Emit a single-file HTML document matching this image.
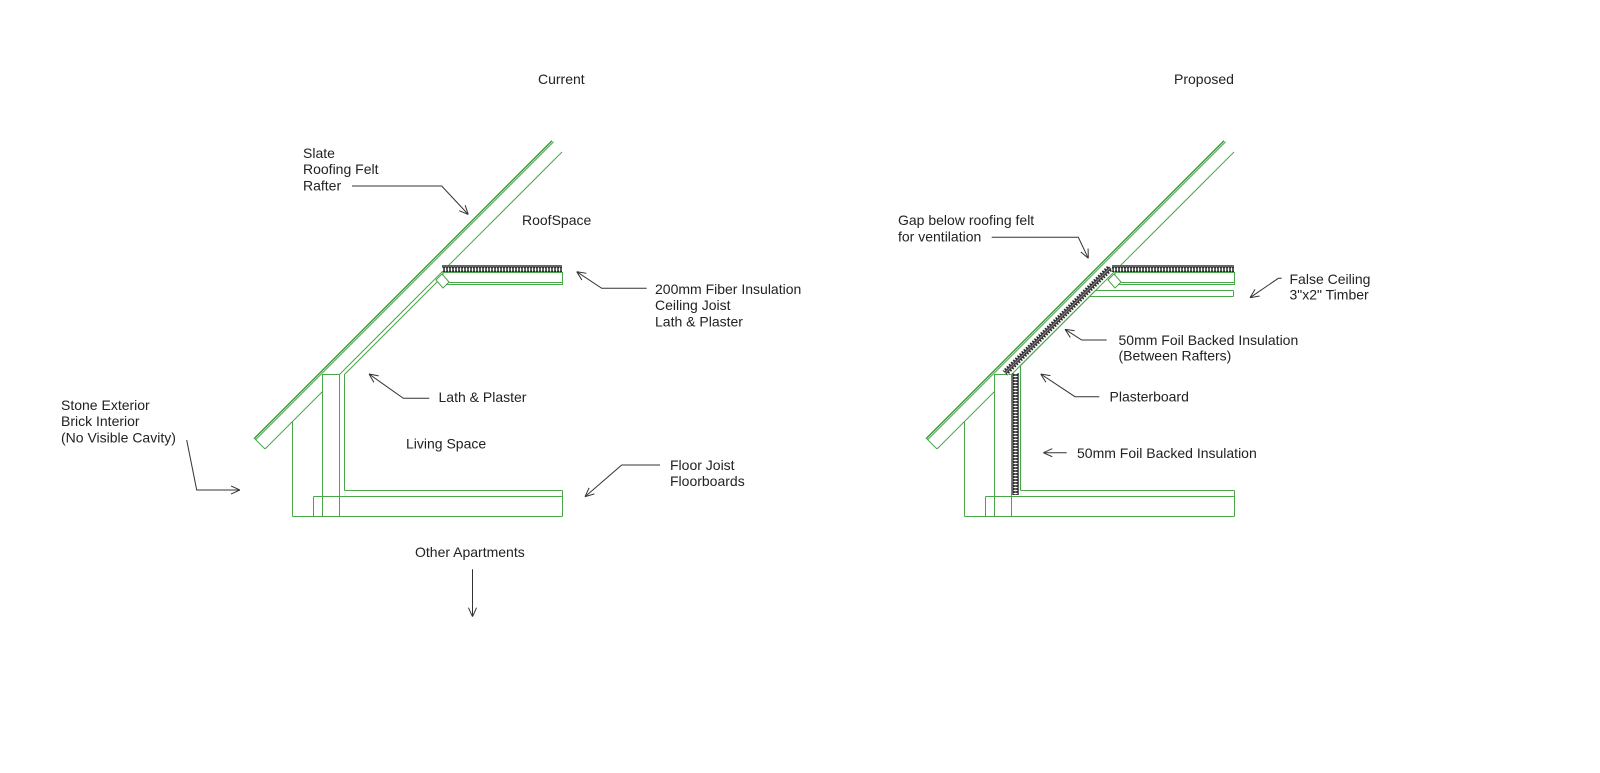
<!DOCTYPE html>
<html>
<head>
<meta charset="utf-8">
<style>
html,body{margin:0;padding:0;background:#fff;}
svg{display:block;}
text{font-family:"Liberation Sans",Arial,sans-serif;font-size:14px;fill:#222;}
</style>
</head>
<body>
<svg width="1600" height="773" viewBox="0 0 1600 773" xmlns="http://www.w3.org/2000/svg">
<defs>
  <marker id="ah" viewBox="0 0 10 10" refX="10" refY="5" markerWidth="9" markerHeight="9" markerUnits="userSpaceOnUse" orient="auto">
    <path d="M0,0.5 L10,5 L0,9.5" fill="none" stroke="#333" stroke-width="1.1"/>
  </marker>
  <pattern id="ins" patternUnits="userSpaceOnUse" x="0" y="0" width="3" height="7">
    <rect x="0" y="0" width="3" height="7" fill="#fff"/>
    <ellipse cx="1.5" cy="3.5" rx="1.4" ry="2.7" fill="none" stroke="#1a1a1a" stroke-width="1.1"/>
    <line x1="0" y1="0.6" x2="3" y2="0.6" stroke="#444" stroke-width="0.8"/>
    <line x1="0" y1="6.4" x2="3" y2="6.4" stroke="#444" stroke-width="0.8"/>
  </pattern>
  <pattern id="insv" patternUnits="userSpaceOnUse" x="1012" y="0" width="7" height="3">
    <rect x="0" y="0" width="7" height="3" fill="#fff"/>
    <ellipse cx="3.5" cy="1.5" rx="2.7" ry="1.4" fill="none" stroke="#1a1a1a" stroke-width="1.1"/>
    <line x1="0.6" y1="0" x2="0.6" y2="3" stroke="#444" stroke-width="0.8"/>
    <line x1="6.4" y1="0" x2="6.4" y2="3" stroke="#444" stroke-width="0.8"/>
  </pattern>
</defs>

<!-- Titles -->
<text x="538" y="84">Current</text>
<text x="1174" y="84">Proposed</text>

<!-- ================= CURRENT ================= -->
<g fill="none" stroke="#4aa64a" stroke-width="1">
  <line x1="254" y1="438.8" x2="552" y2="140.8" stroke="#3a9a3a" stroke-width="1.4"/>
  <line x1="255.5" y1="439.8" x2="553.5" y2="141.8" stroke="#56ad56" stroke-width="1.1"/>
  <line x1="254.5" y1="438.5" x2="265" y2="449"/>
  <line x1="265" y1="449" x2="322.5" y2="391.5"/>
  <line x1="339.5" y1="374.5" x2="562" y2="152"/>
  <line x1="292.5" y1="421.5" x2="292.5" y2="516.5"/>
  <line x1="292.5" y1="516.5" x2="562.5" y2="516.5"/>
  <polyline points="322.5,516.5 322.5,374.5 339.5,374.5 339.5,516.5"/>
  <line x1="313.5" y1="496.5" x2="562.5" y2="496.5"/>
  <line x1="313.5" y1="496.5" x2="313.5" y2="516.5"/>
  <line x1="344.5" y1="490.5" x2="562.5" y2="490.5"/>
  <line x1="562.5" y1="490.5" x2="562.5" y2="516.5"/>
  <polyline points="344.5,490.5 344.5,374.5 437.5,281.5"/>
  <rect x="443" y="272.5" width="119.5" height="12"/>
  <line x1="443" y1="282.5" x2="562.5" y2="282.5"/>
  <polygon points="436,280 442,274 449,282 443,288" fill="#fff"/>
</g>
<rect x="442" y="265" width="120" height="7" fill="url(#ins)"/>

<!-- current labels -->
<text x="303" y="158">Slate</text>
<text x="303" y="174">Roofing Felt</text>
<text x="303" y="190.5">Rafter</text>
<polyline points="352,186 441.7,186 468.3,214.5" fill="none" stroke="#333" stroke-width="1" marker-end="url(#ah)"/>

<text x="522" y="225">RoofSpace</text>

<text x="655" y="294">200mm Fiber Insulation</text>
<text x="655" y="310">Ceiling Joist</text>
<text x="655" y="326.5">Lath &amp; Plaster</text>
<polyline points="646.7,288.3 601.7,288.3 576.7,271.7" fill="none" stroke="#333" stroke-width="1" marker-end="url(#ah)"/>

<text x="438.5" y="402">Lath &amp; Plaster</text>
<polyline points="429.3,398.3 403.3,398.3 369,374" fill="none" stroke="#333" stroke-width="1" marker-end="url(#ah)"/>

<text x="406" y="448.5">Living Space</text>

<text x="61" y="410">Stone Exterior</text>
<text x="61" y="426">Brick Interior</text>
<text x="61" y="442.5">(No Visible Cavity)</text>
<polyline points="186.7,440 196.7,490 240,490" fill="none" stroke="#333" stroke-width="1" marker-end="url(#ah)"/>

<text x="670" y="470">Floor Joist</text>
<text x="670" y="486">Floorboards</text>
<polyline points="660,465 621.7,465 585,496.7" fill="none" stroke="#333" stroke-width="1" marker-end="url(#ah)"/>

<text x="415" y="557">Other Apartments</text>
<line x1="472.5" y1="569.3" x2="472.5" y2="616.7" stroke="#333" stroke-width="1" marker-end="url(#ah)"/>

<!-- ================= PROPOSED ================= -->
<g fill="none" stroke="#4aa64a" stroke-width="1">
  <line x1="926" y1="438.8" x2="1224" y2="140.8" stroke="#3a9a3a" stroke-width="1.4"/>
  <line x1="927.5" y1="439.8" x2="1225.5" y2="141.8" stroke="#56ad56" stroke-width="1.1"/>
  <line x1="926.5" y1="438.5" x2="937" y2="449"/>
  <line x1="937" y1="449" x2="994.5" y2="391.5"/>
  <line x1="1011.5" y1="374.5" x2="1234" y2="152"/>
  <line x1="964.5" y1="421.5" x2="964.5" y2="516.5"/>
  <line x1="964.5" y1="516.5" x2="1234.5" y2="516.5"/>
  <polyline points="994.5,516.5 994.5,374.5 1011.5,374.5 1011.5,516.5"/>
  <line x1="985.5" y1="496.5" x2="1234.5" y2="496.5"/>
  <line x1="985.5" y1="496.5" x2="985.5" y2="516.5"/>
  <line x1="1020.5" y1="490.5" x2="1234.5" y2="490.5"/>
  <line x1="1234.5" y1="490.5" x2="1234.5" y2="516.5"/>
  <polyline points="1020.5,490.5 1020.5,365.5 1096,290" stroke-width="1.2"/>
  <line x1="1095.5" y1="290.5" x2="1233.5" y2="290.5"/>
  <line x1="1089.5" y1="296.5" x2="1233.5" y2="296.5"/>
  <line x1="1233.5" y1="290.5" x2="1233.5" y2="296.5"/>
  <rect x="1115" y="272.5" width="119.5" height="12"/>
  <line x1="1115" y1="282.5" x2="1234.5" y2="282.5"/>
  <polygon points="1108,280 1114,274 1121,282 1115,288" fill="#fff"/>
</g>
<rect x="1112" y="265" width="122" height="7" fill="url(#ins)"/>
<g transform="translate(1005,373) rotate(-45)">
  <rect x="0" y="-3.5" width="149" height="7" fill="url(#ins)"/>
</g>
<rect x="1012" y="373" width="7" height="122" fill="url(#insv)"/>

<!-- proposed labels -->
<text x="898" y="225">Gap below roofing felt</text>
<text x="898" y="241.5">for ventilation</text>
<polyline points="991.7,237.3 1078.3,237.3 1088.3,258.3" fill="none" stroke="#333" stroke-width="1" marker-end="url(#ah)"/>

<text x="1289.5" y="284">False Ceiling</text>
<text x="1289.5" y="299.5">3"x2" Timber</text>
<polyline points="1281.7,278.3 1278.3,278.3 1250,297.7" fill="none" stroke="#333" stroke-width="1" marker-end="url(#ah)"/>

<text x="1118.5" y="345">50mm Foil Backed Insulation</text>
<text x="1118.5" y="360.5">(Between Rafters)</text>
<polyline points="1106.7,340 1081.7,340 1065,329.3" fill="none" stroke="#333" stroke-width="1" marker-end="url(#ah)"/>

<text x="1109.5" y="401.5">Plasterboard</text>
<polyline points="1099.3,396.7 1075,396.7 1040.7,374" fill="none" stroke="#333" stroke-width="1" marker-end="url(#ah)"/>

<text x="1077" y="458">50mm Foil Backed Insulation</text>
<line x1="1066.7" y1="452.7" x2="1043.3" y2="452.7" stroke="#333" stroke-width="1" marker-end="url(#ah)"/>
</svg>
</body>
</html>
